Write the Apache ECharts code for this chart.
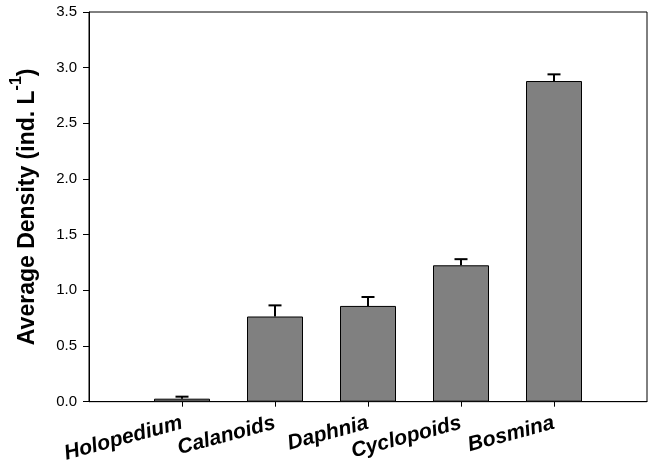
<!DOCTYPE html>
<html>
<head>
<meta charset="utf-8">
<script src="https://cdn.jsdelivr.net/npm/echarts@6/dist/echarts.min.js"></script>
<style>html,body{margin:0;padding:0;background:#fff;}#c{width:652px;height:465px;}</style>
</head>
<body>
<div id="c"></div>
<script>
var categories = ['', 'Holopedium', 'Calanoids', 'Daphnia', 'Cyclopoids', 'Bosmina', ''];
var means = [null, 0.027, 0.765, 0.86, 1.225, 2.88, null];
var errors = [null, 0.018, 0.10, 0.08, 0.055, 0.06, null];
var yTicks = [0, 0.5, 1.0, 1.5, 2.0, 2.5, 3.0, 3.5];

var FONT = 'Arial, "Liberation Sans", sans-serif';
var chart = echarts.init(document.getElementById('c'), null, {renderer: 'canvas'});

var barData = means.map(function (v) { return v == null ? '-' : v; });
var errData = [];
means.forEach(function (v, i) { if (v != null) errData.push([i, v, v + errors[i]]); });

chart.setOption({
  animation: false,
  backgroundColor: '#fff',
  grid: {left: 89, right: 5, top: 12, bottom: 62, show: true, borderColor: '#000', borderWidth: 1, backgroundColor: 'transparent'},
  xAxis: {
    type: 'category',
    data: categories,
    boundaryGap: false,
    axisLine: {show: true, lineStyle: {color: '#000', width: 1}},
    axisTick: {show: true, inside: false, length: 5, lineStyle: {color: '#000'},
      interval: function (i) { return i > 0 && i < categories.length - 1; }},
    axisLabel: {
      interval: 0, rotate: 15, margin: 21,
      fontFamily: FONT, fontSize: 21, fontWeight: 'bold', fontStyle: 'italic', color: '#000'
    },
    splitLine: {show: false}
  },
  yAxis: {
    type: 'value', min: 0, max: 3.5, interval: 0.5,
    axisLine: {show: true, lineStyle: {color: '#000', width: 1}},
    axisTick: {show: true, inside: false, length: 6, lineStyle: {color: '#000'}},
    axisLabel: {
      margin: 12, fontFamily: FONT, fontSize: 15, color: '#000',
      formatter: function (v) { return v.toFixed(1); }
    },
    splitLine: {show: false},
    name: '{a|Average Density (ind. L}{s|-1}{a|)}',
    nameLocation: 'middle',
    nameRotate: 90,
    nameGap: 50,
    nameTextStyle: {
      rich: {
        a: {fontFamily: FONT, fontSize: 23, fontWeight: 'bold', color: '#000', lineHeight: 30, verticalAlign: 'bottom'},
        s: {fontFamily: FONT, fontSize: 16, fontWeight: 'bold', color: '#000', lineHeight: 30, verticalAlign: 'top'}
      }
    }
  },
  series: [
    {
      type: 'bar',
      data: barData,
      barWidth: 56,
      itemStyle: {color: '#808080', borderColor: '#000', borderWidth: 1},
      z: 2
    },
    {
      type: 'custom',
      data: errData,
      z: 3,
      renderItem: function (params, api) {
        var x = api.value(0);
        var base = api.coord([x, api.value(1)]);
        var top = api.coord([x, api.value(2)]);
        var hw = 6.5;
        return {
          type: 'group',
          children: [
            {type: 'line', shape: {x1: base[0], y1: base[1], x2: top[0], y2: top[1]}, style: {stroke: '#000', lineWidth: 2}},
            {type: 'line', shape: {x1: top[0] - hw, y1: top[1], x2: top[0] + hw, y2: top[1]}, style: {stroke: '#000', lineWidth: 2}}
          ]
        };
      }
    }
  ]
});
</script>
</body>
</html>
